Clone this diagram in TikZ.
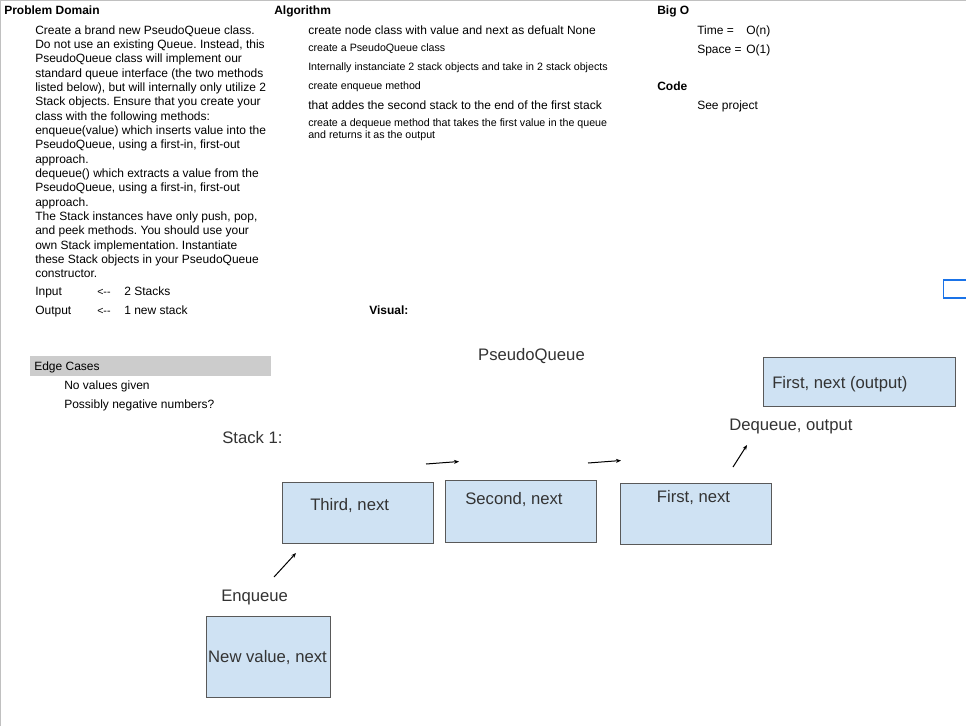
\documentclass[tikz,border=0pt]{standalone}
\usepackage{fontspec}
\setmainfont{Liberation Sans}
\usetikzlibrary{arrows.meta}
\definecolor{boxfill}{HTML}{CFE2F3}
\definecolor{boxline}{HTML}{595959}
\definecolor{lbl}{HTML}{333333}
\definecolor{bargray}{HTML}{CCCCCC}
\definecolor{framegray}{HTML}{C0C0C0}
\definecolor{selblue}{HTML}{1A73E8}
\frenchspacing
\begin{document}
\begin{tikzpicture}[x=0.75pt,y=-0.75pt,
  txt/.style={anchor=base west, inner sep=0pt, font=\fontsize{9}{10.8}\selectfont},
  small/.style={anchor=base west, inner sep=0pt, font=\fontsize{8}{9.6}\selectfont},
  head/.style={anchor=base west, inner sep=0pt, font=\fontsize{9}{10.8}\selectfont\bfseries},
  big/.style={inner sep=0pt, font=\fontsize{12.5}{15}\selectfont, text=lbl},
  nodebox/.style={draw=boxline, fill=boxfill, line width=0.75pt, inner sep=0pt},
  arr/.style={-{Stealth[length=3.75pt,width=3pt]}, line width=0.75pt}
]
\useasboundingbox[fill=white] (0,0) rectangle (966,726);
% frame
\draw[framegray, line width=1.1pt] (0.75,726) -- (0.75,0.75) -- (966,0.75);
% selection box at right edge
\draw[selblue, line width=1.1pt] (970,280) -- (943.5,280) -- (943.5,298) -- (970,298);

% Problem Domain
\node[head] (pdh) at (4,14.5) {Problem Domain};
\foreach \t [count=\i from 0] in {
 {Create a brand new PseudoQueue class.},
 {Do not use an existing Queue. Instead, this},
 {PseudoQueue class will implement our},
 {standard queue interface (the two methods},
 {listed below), but will internally only utilize 2},
 {Stack objects. Ensure that you create your},
 {class with the following methods:},
 {enqueue(value) which inserts value into the},
 {PseudoQueue, using a first-in, first-out},
 {approach.},
 {dequeue() which extracts a value from the},
 {PseudoQueue, using a first-in, first-out},
 {approach.},
 {The Stack instances have only push, pop,},
 {and peek methods. You should use your},
 {own Stack implementation. Instantiate},
 {these Stack objects in your PseudoQueue},
 {constructor.}}
 \node[txt] (pd\i) at (35,{34+14.35*\i}) {\t};
\node[txt] (inl) at (35,295) {Input};
\node[small] (ina) at (97,295) {<-{}-};
\node[txt] (inv) at (124,295) {2 Stacks};
\node[txt] (outl) at (35,314) {Output};
\node[small] (outa) at (97,314) {<-{}-};
\node[txt] (outv) at (124,314) {1 new stack};

% Algorithm
\node[head] (algh) at (274,14.5) {Algorithm};
\node[txt] (a1) at (308,34) {create node class with value and next as defualt None};
\node[small] (a2) at (308,51.8) {create a PseudoQueue class};
\node[small] (a3) at (308,70.8) {Internally instanciate 2 stack objects and take in 2 stack objects};
\node[small] (a4) at (308,89.8) {create enqueue method};
\node[txt] (a5) at (308,109.7) {that addes the second stack to the end of the first stack};
\node[small] (a6) at (308,126.8) {create a dequeue method that takes the first value in the queue};
\node[small] (a7) at (308,138.8) {and returns it as the output};

% Big O and Code
\node[head] (bigh) at (657,14.5) {Big O};
\node[txt] (tl) at (697,34) {Time =};
\node[txt] (tv) at (746,34) {O(n)};
\node[txt] (sl) at (697,53) {Space =};
\node[txt] (sv) at (746,53) {O(1)};
\node[head] (codeh) at (657,90.7) {Code};
\node[txt] (code) at (697,109.7) {See project};

\node[head] (vis) at (369,314) {Visual:};

% Edge cases
\fill[bargray] (30,356) rectangle (271,376);
\node[txt] (edh) at (34,370.5) {Edge Cases};
\node[txt] (e1) at (64,389.5) {No values given};
\node[txt] (e2) at (64,408.7) {Possibly negative numbers?};

% Visual diagram
\node[big, anchor=base] (pq) at (531.5,360.5) {PseudoQueue};
\node[big, anchor=base west] (st1) at (222,443.5) {Stack 1:};

\node[nodebox, minimum width=151*0.75pt, minimum height=61*0.75pt] (third) at (357.5,512.5) {};
\node[nodebox, minimum width=151*0.75pt, minimum height=62*0.75pt] (second) at (520.5,511) {};
\node[nodebox, minimum width=151*0.75pt, minimum height=61*0.75pt] (first) at (695.5,513.5) {};
\node[nodebox, minimum width=192*0.75pt, minimum height=49*0.75pt] (outbox) at (859,381.5) {};
\node[nodebox, minimum width=124*0.75pt, minimum height=81*0.75pt] (newbox) at (268,656.5) {};

\node[big, anchor=base west] (thirdt) at (310,510.5) {Third, next};
\node[big, anchor=base] (secondt) at (514,504.5) {Second, next};
\node[big, anchor=base] (firstt) at (693.5,502.5) {First, next};
\node[big, anchor=base west] (outt) at (772,388.5) {First, next (output)};
\node[big, anchor=base] (newt) at (267.5,662.5) {New value, next};

\node[big, anchor=base west] (deq) at (729,430.5) {Dequeue, output};
\node[big, anchor=base west] (enq) at (221,601.5) {Enqueue};

% arrows
\coordinate (r1s) at (426,464);
\coordinate (r1e) at (459,461.5);
\coordinate (r2s) at (588,463);
\coordinate (r2e) at (621,460.5);
\coordinate (ds) at (733,467);
\coordinate (de) at (747,445);
\coordinate (es) at (274,577);
\coordinate (ee) at (296,553);
\draw[arr] (r1s) -- (r1e);
\draw[arr] (r2s) -- (r2e);
\draw[arr] (ds) -- (de);
\draw[arr] (es) -- (ee);
\end{tikzpicture}
\end{document}
